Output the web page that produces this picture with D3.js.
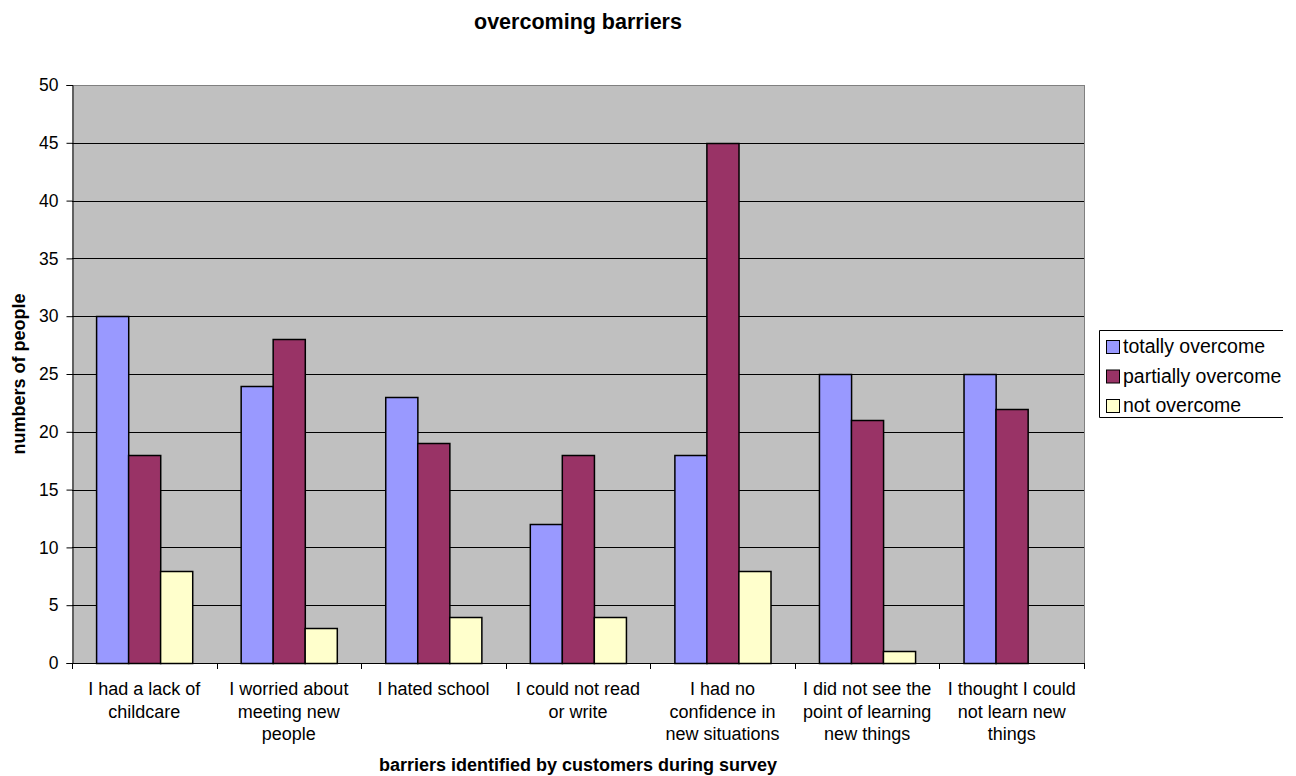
<!DOCTYPE html>
<html>
<head>
<meta charset="utf-8">
<script src="https://cdn.jsdelivr.net/npm/d3@7/dist/d3.min.js"></script>
<style>
  html, body { margin: 0; padding: 0; background: #fff; }
  svg { display: block; font-family: "Liberation Sans", Arial, sans-serif; }
</style>
</head>
<body>
<svg id="chart" width="1296" height="776"></svg>
<script>
// Survey categories (barriers), each label split into display lines
const categories = [
  ["I had a lack of", "childcare"],
  ["I worried about", "meeting new", "people"],
  ["I hated school"],
  ["I could not read", "or write"],
  ["I had no", "confidence in", "new situations"],
  ["I did not see the", "point of learning", "new things"],
  ["I thought I could", "not learn new", "things"]
];
const seriesNames = ["totally overcome", "partially overcome", "not overcome"];
const totallyOvercome   = [30, 24, 23, 12, 18, 25, 25];
const partiallyOvercome = [18, 28, 19, 18, 45, 21, 22];
const notOvercome       = [8, 3, 4, 4, 8, 1, 0];
const yTicks = [0, 5, 10, 15, 20, 25, 30, 35, 40, 45, 50];
const colors = ["#9999FF", "#993366", "#FFFFCC"];

const seriesValues = [totallyOvercome, partiallyOvercome, notOvercome];

const svg = d3.select("#chart");
const plot = { left: 72, top: 85, right: 1084, bottom: 663 };

const x0 = d3.scaleBand()
  .domain(d3.range(categories.length))
  .range([plot.left, plot.right])
  .paddingInner(0).paddingOuter(0);

// 150% gap between groups: bars fill 3/(3+1.5) of each category slot
const groupWidth = x0.bandwidth() * 3 / 4.5;
const x1 = d3.scaleBand()
  .domain(d3.range(seriesNames.length))
  .range([0, groupWidth]);

const y = d3.scaleLinear().domain([0, 50]).range([plot.bottom, plot.top]);

// Plot background
svg.append("rect")
  .attr("x", plot.left).attr("y", plot.top)
  .attr("width", plot.right - plot.left).attr("height", plot.bottom - plot.top)
  .attr("fill", "#C0C0C0");

// Gridlines
svg.append("g").selectAll("line")
  .data(yTicks.filter(t => t > 0))
  .join("line")
  .attr("x1", plot.left).attr("x2", plot.right)
  .attr("y1", d => Math.round(y(d)) + 0.5).attr("y2", d => Math.round(y(d)) + 0.5)
  .attr("stroke", "#000").attr("stroke-width", 1);

// Plot frame edges
svg.append("line")
  .attr("x1", plot.right + 0.5).attr("x2", plot.right + 0.5)
  .attr("y1", plot.top).attr("y2", plot.bottom)
  .attr("stroke", "#808080");
svg.append("line")
  .attr("x1", plot.left).attr("x2", plot.right)
  .attr("y1", plot.top + 0.5).attr("y2", plot.top + 0.5)
  .attr("stroke", "#808080");

// Bars
const groups = svg.append("g").selectAll("g")
  .data(categories.map((c, i) => i))
  .join("g")
  .attr("transform", i => `translate(${x0(i) + (x0.bandwidth() - groupWidth) / 2},0)`);

groups.selectAll("rect")
  .data(i => seriesValues.map((vals, s) => ({ s, v: vals[i] })).filter(d => d.v > 0))
  .join("rect")
  .attr("x", d => Math.round(x1(d.s)) + 0.5)
  .attr("width", x1.bandwidth())
  .attr("y", d => Math.round(y(d.v)) + 0.5)
  .attr("height", d => Math.round(y(0)) - Math.round(y(d.v)))
  .attr("fill", d => colors[d.s])
  .attr("stroke", "#000").attr("stroke-width", 1.5);

// Y axis
const yAxis = d3.axisLeft(y).tickValues(yTicks).tickSize(6).tickPadding(8);
const gy = svg.append("g")
  .attr("transform", `translate(${plot.left + 0.5},0)`)
  .call(yAxis);
gy.select(".domain").attr("stroke", "#000");
gy.selectAll(".tick line").attr("stroke", "#000");
gy.selectAll(".tick text")
  .attr("font-size", 17.5).attr("fill", "#000")
  .attr("font-family", "Liberation Sans, Arial, sans-serif");

// X axis: baseline with ticks between categories
const gx = svg.append("g");
gx.append("line")
  .attr("x1", plot.left).attr("x2", plot.right + 1)
  .attr("y1", plot.bottom + 0.5).attr("y2", plot.bottom + 0.5)
  .attr("stroke", "#000");
gx.selectAll("line.tick")
  .data(d3.range(categories.length + 1))
  .join("line").attr("class", "tick")
  .attr("x1", i => Math.round(plot.left + i * x0.bandwidth()) + 0.5)
  .attr("x2", i => Math.round(plot.left + i * x0.bandwidth()) + 0.5)
  .attr("y1", plot.bottom).attr("y2", plot.bottom + 6)
  .attr("stroke", "#000");

gx.selectAll("text.cat")
  .data(categories)
  .join("text").attr("class", "cat")
  .attr("x", (d, i) => x0(i) + x0.bandwidth() / 2)
  .attr("y", 695)
  .attr("text-anchor", "middle")
  .attr("font-size", 18)
  .selectAll("tspan")
  .data(d => d)
  .join("tspan")
  .attr("x", function () { return this.parentNode.getAttribute("x"); })
  .attr("dy", (d, j) => j === 0 ? 0 : 22.5)
  .text(d => d);

// Titles
svg.append("text")
  .attr("x", (plot.left + plot.right) / 2).attr("y", 29)
  .attr("text-anchor", "middle")
  .attr("font-size", 21.5).attr("font-weight", "bold")
  .text("overcoming barriers");

svg.append("text")
  .attr("x", (plot.left + plot.right) / 2).attr("y", 771)
  .attr("text-anchor", "middle")
  .attr("font-size", 18).attr("font-weight", "bold")
  .text("barriers identified by customers during survey");

svg.append("text")
  .attr("transform", `translate(25,${(plot.top + plot.bottom) / 2}) rotate(-90)`)
  .attr("text-anchor", "middle")
  .attr("font-size", 18).attr("font-weight", "bold")
  .text("numbers of people");

// Legend (frame open on its right side)
const legend = svg.append("g").attr("transform", "translate(1099,330)");
legend.append("rect")
  .attr("x", 0).attr("y", 0).attr("width", 184).attr("height", 87)
  .attr("fill", "#fff");
legend.append("path")
  .attr("d", "M184,0.5H0.5V87.5H184")
  .attr("fill", "none").attr("stroke", "#000");
const items = legend.selectAll("g.item")
  .data(seriesNames)
  .join("g").attr("class", "item")
  .attr("transform", (d, i) => `translate(0,${10 + i * 29.5})`);
items.append("rect")
  .attr("x", 7.5).attr("y", 0.5).attr("width", 13).attr("height", 13)
  .attr("fill", (d, i) => colors[i]).attr("stroke", "#000");
items.append("text")
  .attr("x", 24).attr("y", 13)
  .attr("font-size", 19.5)
  .text(d => d);
</script>
</body>
</html>
